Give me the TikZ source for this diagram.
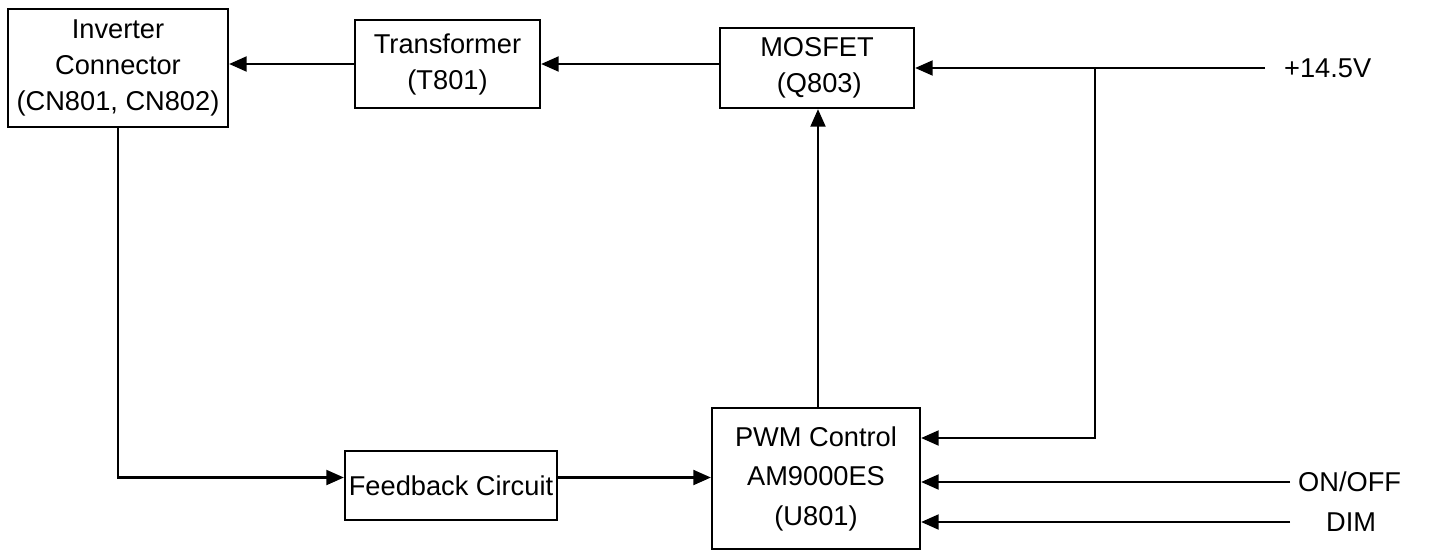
\documentclass[tikz,border=0pt]{standalone}
\usepackage{fontspec}
\setmainfont{Liberation Sans}
\usetikzlibrary{arrows.meta}

\begin{document}
\begin{tikzpicture}[
  x=0.02cm, y=-0.02cm,
  line width=1.3pt,
  font=\fontsize{15.5}{20.5}\selectfont,
  block/.style={rectangle,draw,align=center,inner sep=0pt},
  sig/.style={-{Triangle[length=10pt,width=8.5pt]}},
  pin/.style={anchor=west,inner sep=0pt}
]
  \useasboundingbox (0,0) rectangle (1429,551);
  \node[block,minimum width=4.4cm,minimum height=2.36cm] (inv) at (118,68) {Inverter\\Connector\\(CN801, CN802)};
  \node[block,minimum width=3.7cm,minimum height=1.76cm] (trafo) at (447.5,64) {Transformer\\(T801)};
  \node[block,minimum width=3.88cm,minimum height=1.6cm] (mos) at (817,68) {MOSFET\\\,(Q803)};
  \node[block,minimum width=4.16cm,minimum height=2.82cm] (pwm) at (816,478.5) {PWM Control\\[2pt]AM9000ES\\[2pt](U801)};
  \node[block,minimum width=4.24cm,minimum height=1.38cm] (fb) at (451,485.5) {Feedback Circuit};
  % supply and control inputs
  \coordinate (vin) at (1265,68);
  \coordinate (tap) at (1095,68);
  \coordinate (tapend) at (1095,438);
  \coordinate (onoff) at (1290,482);
  \coordinate (dim) at (1290,522);
  \node[pin] (vinlbl) at (1283,68) {+14.5V};
  \node[pin] (onofflbl) at (1297,482) {ON/OFF};
  \node[pin] (dimlbl) at (1325,522) {DIM};
  % signal path
  \draw[sig] (trafo.west) -- (trafo.west -| inv.east);
  \draw[sig] (mos.west |- trafo.west) -- (trafo.east);
  \draw[sig] (vin) -- (vin -| mos.east);
  \draw[sig] (tap) -- (tapend) -- (tapend -| pwm.east);
  \draw[sig] (onoff) -- (onoff -| pwm.east);
  \draw[sig] (dim) -- (dim -| pwm.east);
  \draw[sig] ([xshift=0.04cm]pwm.north) -- ([xshift=0.04cm]pwm.north |- mos.south);
  \draw[sig] (inv.south) |- ([yshift=0.16cm]fb.west);
  \draw[sig] ([yshift=0.16cm]fb.east) -- ([yshift=0.16cm]fb.east -| pwm.west);
\end{tikzpicture}
\end{document}
